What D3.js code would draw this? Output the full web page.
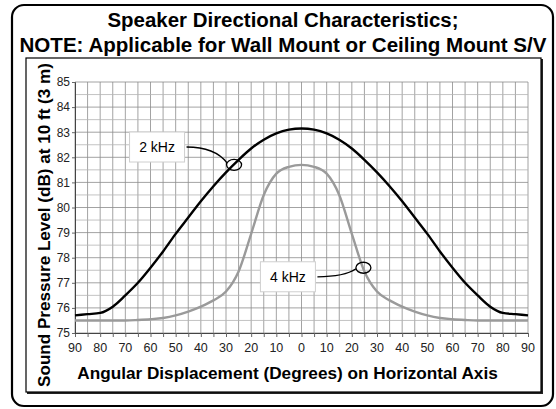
<!DOCTYPE html>
<html>
<head>
<meta charset="utf-8">
<script src="https://cdn.jsdelivr.net/npm/d3@7"></script>
<style>
  body { margin: 0; background: #fff; }
  svg { display: block; font-family: "Liberation Sans", Arial, sans-serif; }
</style>
</head>
<body>
<div id="chart"></div>
<script>
// data
const angles = [-90, -85, -80, -75, -70, -65, -60, -55, -50, -45, -40, -35, -30, -25, -20, -15, -10, -5, 0,
  5, 10, 15, 20, 25, 30, 35, 40, 45, 50, 55, 60, 65, 70, 75, 80, 85, 90];
const spl2k = [75.7, 75.75, 75.8, 76.05, 76.5, 77.0, 77.6, 78.25, 78.95, 79.6, 80.25, 80.85, 81.4, 81.9, 82.35, 82.7, 82.95, 83.1, 83.15,
  83.1, 82.95, 82.7, 82.35, 81.9, 81.4, 80.85, 80.25, 79.6, 78.95, 78.25, 77.6, 77.0, 76.5, 76.05, 75.8, 75.75, 75.7];
const spl4k = [75.5, 75.5, 75.5, 75.5, 75.5, 75.52, 75.55, 75.6, 75.7, 75.85, 76.05, 76.3, 76.65, 77.45, 78.95, 80.5, 81.35, 81.62, 81.7,
  81.62, 81.35, 80.5, 78.95, 77.45, 76.65, 76.3, 76.05, 75.85, 75.7, 75.6, 75.55, 75.52, 75.5, 75.5, 75.5, 75.5, 75.5];
const xTicks = [-90, -80, -70, -60, -50, -40, -30, -20, -10, 0, 10, 20, 30, 40, 50, 60, 70, 80, 90];
const yTicks = [75, 76, 77, 78, 79, 80, 81, 82, 83, 84, 85];
const titleLines = ["Speaker Directional Characteristics;", "NOTE: Applicable for Wall Mount or Ceiling Mount S/V"];
const callouts = [
  { text: "2 kHz", boxAt: [-57.4, 82.41], ringAt: [-26.8, 81.7] },
  { text: "4 kHz", boxAt: [-5.4, 77.24], ringAt: [24.6, 77.6] }
];

const W = 556, H = 409;
const margin = { top: 82, right: 28, bottom: 76, left: 75 };
const width = W - margin.left - margin.right;
const height = H - margin.top - margin.bottom;

const svg = d3.select("#chart").append("svg")
  .attr("width", W).attr("height", H);

// outer rounded frame
svg.append("rect")
  .attr("x", 12).attr("y", 5).attr("width", 541).attr("height", 401)
  .attr("rx", 12).attr("fill", "#fff").attr("stroke", "#000").attr("stroke-width", 2.2);

// inner frame with a little drop shadow on right/bottom
svg.append("rect")
  .attr("x", 27).attr("y", 59).attr("width", 516).attr("height", 335)
  .attr("fill", "#222");
svg.append("rect")
  .attr("x", 26).attr("y", 58).attr("width", 515).attr("height", 334)
  .attr("fill", "#fff").attr("stroke", "#000").attr("stroke-width", 1.2);

// fit text to a target width
function fitText(sel, target) {
  const w = sel.node().getComputedTextLength();
  const fs = parseFloat(sel.attr("font-size"));
  sel.attr("font-size", (fs * target / w).toFixed(2));
}

titleLines.forEach((t, i) => {
  const el = svg.append("text")
    .attr("x", 283).attr("y", i === 0 ? 26.5 : 51.5)
    .attr("text-anchor", "middle")
    .attr("font-weight", "bold").attr("font-size", 19)
    .text(t);
  fitText(el, i === 0 ? 351 : 527);
});

const g = svg.append("g").attr("transform", `translate(${margin.left},${margin.top})`);

const x = d3.scaleLinear().domain([-90, 90]).range([0, width]);
const y = d3.scaleLinear().domain([75, 85]).range([height, 0]);

// grid
g.append("g")
  .selectAll("line")
  .data(d3.range(-90, 91, 5))
  .join("line")
  .attr("x1", d => x(d)).attr("x2", d => x(d))
  .attr("y1", 0).attr("y2", height)
  .attr("stroke", "#8c8c8c").attr("stroke-width", 0.8);

g.append("g")
  .selectAll("line")
  .data(d3.range(75, 85.01, 0.5))
  .join("line")
  .attr("x1", 0).attr("x2", width)
  .attr("y1", d => y(d)).attr("y2", d => y(d))
  .attr("stroke", d => (d % 1 === 0 ? "#8c8c8c" : "#b4b4b4")).attr("stroke-width", 0.8);

// axes
const xAxis = g.append("g")
  .attr("transform", `translate(0,${height})`)
  .call(d3.axisBottom(x).tickValues(d3.range(-90, 91, 5)).tickSize(4).tickFormat(""));
xAxis.select(".domain").attr("stroke", "#444");
xAxis.selectAll(".tick line").attr("stroke", "#666");

g.append("g")
  .selectAll("text")
  .data(xTicks)
  .join("text")
  .attr("x", d => x(d)).attr("y", height + 19)
  .attr("text-anchor", "middle")
  .attr("font-size", 12.5).attr("fill", "#222")
  .text(d => Math.abs(d));

const yAxis = g.append("g")
  .call(d3.axisLeft(y).tickValues(yTicks).tickSize(3).tickPadding(2).tickFormat(d3.format("d")));
yAxis.select(".domain").attr("stroke", "#444");
yAxis.selectAll(".tick line").attr("stroke", "#666");
yAxis.selectAll(".tick text")
  .attr("font-size", 12).attr("fill", "#222")
  .attr("font-family", "'Liberation Sans', Arial, sans-serif");

// curves
const line = d3.line()
  .x((d, i) => x(angles[i]))
  .y(d => y(d))
  .curve(d3.curveMonotoneX);

g.append("path").datum(spl4k)
  .attr("d", line).attr("fill", "none")
  .attr("stroke", "#9a9a9a").attr("stroke-width", 2.4);

g.append("path").datum(spl2k)
  .attr("d", line).attr("fill", "none")
  .attr("stroke", "#000").attr("stroke-width", 2.4);

// callouts
callouts.forEach(c => {
  const bx = x(c.boxAt[0]), by = y(c.boxAt[1]);
  const cx = x(c.ringAt[0]), cy = y(c.ringAt[1]);
  const rx = 7.5, ry = 5.5;
  const bw = 55, bh = 30;
  const sx = bx + bw / 2 + 2, sy = by;
  const a = Math.atan2(sy - cy, sx - cx);
  const ex = cx + rx * Math.cos(a), ey = cy + ry * Math.sin(a);

  g.append("rect")
    .attr("x", bx - bw / 2).attr("y", by - bh / 2)
    .attr("width", bw).attr("height", bh)
    .attr("fill", "#fff").attr("stroke", "#cfcfcf").attr("stroke-width", 1);
  g.append("text")
    .attr("x", bx).attr("y", by + 5)
    .attr("text-anchor", "middle").attr("font-size", 14)
    .text(c.text);
  g.append("path")
    .attr("d", `M${sx},${sy} Q${sx + 0.7 * (ex - sx)},${sy} ${ex},${ey}`)
    .attr("fill", "none").attr("stroke", "#000").attr("stroke-width", 1.3);
  g.append("ellipse")
    .attr("cx", cx).attr("cy", cy).attr("rx", rx).attr("ry", ry)
    .attr("fill", "none").attr("stroke", "#000").attr("stroke-width", 1.3);
});

// axis titles
const xt = svg.append("text")
  .attr("x", 287.5).attr("y", 379)
  .attr("text-anchor", "middle")
  .attr("font-weight", "bold").attr("font-size", 17)
  .text("Angular Displacement (Degrees) on Horizontal Axis");
fitText(xt, 421);

const yt = svg.append("text")
  .attr("transform", "translate(49.5,225) rotate(-90)")
  .attr("text-anchor", "middle")
  .attr("font-weight", "bold").attr("font-size", 16)
  .text("Sound Pressure Level (dB) at 10 ft (3 m)");
fitText(yt, 324);
</script>
</body>
</html>
